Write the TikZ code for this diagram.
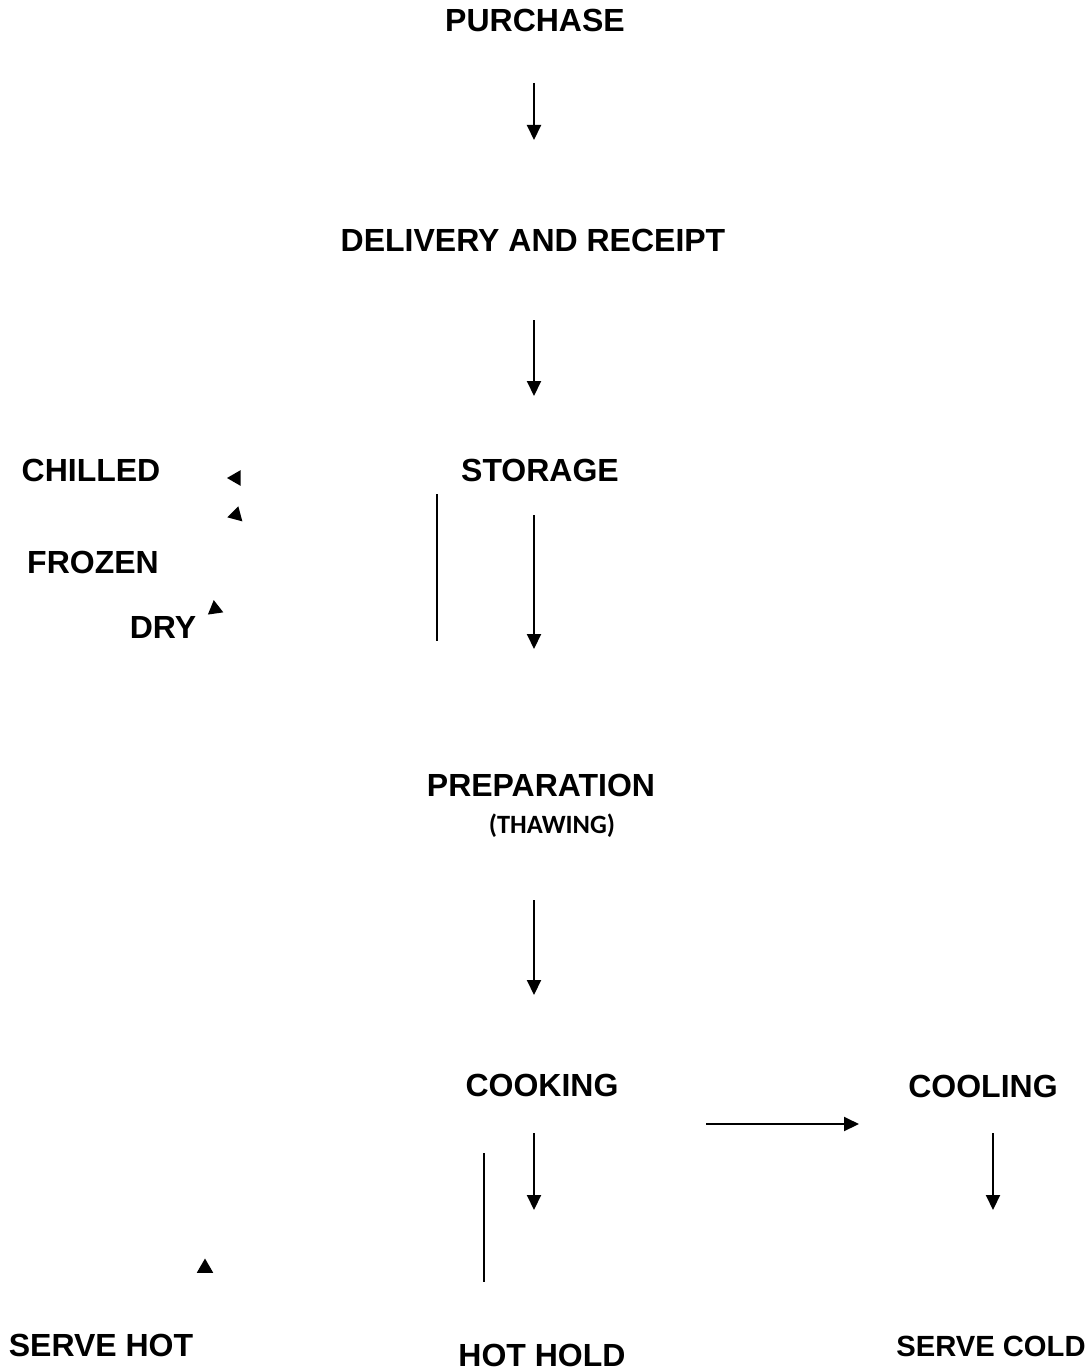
\documentclass[tikz,border=0pt]{standalone}
\usepackage{fontspec}
\setmainfont{Liberation Sans}
\newfontfamily\thawfont{Carlito}
\usepackage{tikz}
\usetikzlibrary{shapes.geometric}
\usetikzlibrary{arrows.meta}
\usetikzlibrary{positioning}

\begin{document}
\begin{tikzpicture}[x=0.5pt,y=-0.5pt,
	lbl/.style={font=\bfseries\fontsize{16}{19}\selectfont, inner sep=0, anchor=base},
	arr/.style={line width=1pt, -{Triangle[length=7.5pt,width=7pt]}},
	tri/.style={regular polygon, regular polygon sides=3, fill=black, inner sep=0, minimum size=9pt}]
\useasboundingbox (0,0) rectangle (1091,1370);
\node [lbl] (purchase) at (535,32) {PURCHASE};
\node [lbl] (delivery) at (533,251) {DELIVERY AND RECEIPT};
\node [lbl] (storage) at (540,481) {STORAGE};
\node [lbl] (chilled) at (91,481) {CHILLED};
\node [lbl] (frozen) at (93,573) {FROZEN};
\node [lbl] (dry) at (163,638) {DRY};
\node [lbl] (prep) at (541,796) {PREPARATION};
\node [lbl, font=\thawfont\bfseries\fontsize{13.2}{16}\selectfont] (thaw) at (552,833) {(THAWING)};
\node [lbl] (cooking) at (542,1096) {COOKING};
\node [lbl] (cooling) at (983,1097) {COOLING};
\node [lbl] (servehot) at (101,1356) {SERVE HOT};
\node [lbl] (hothold) at (542,1366) {HOT HOLD};
\node [lbl, font=\bfseries\fontsize{14.6}{17}\selectfont] (servecold) at (991,1356) {SERVE COLD};
\node [tri, rotate=90] (t1) at (236,478) {};
\node [tri, rotate=105] (t2) at (236,515) {};
\node [tri, rotate=8] (t3) at (215,609) {};
\node [tri, minimum size=9.5pt] (t4) at (205,1268) {};
\coordinate (p1) at (534,83);
\coordinate (p2) at (534,140);
\coordinate (d1) at (534,320);
\coordinate (d2) at (534,396);
\coordinate (s1) at (534,515);
\coordinate (s2) at (534,649);
\coordinate (l1) at (437,494);
\coordinate (l2) at (437,641);
\coordinate (r1) at (534,900);
\coordinate (r2) at (534,995);
\coordinate (c1) at (534,1133);
\coordinate (c2) at (534,1210);
\coordinate (h1) at (706,1124);
\coordinate (h2) at (859,1124);
\coordinate (o1) at (993,1133);
\coordinate (o2) at (993,1210);
\coordinate (k1) at (484,1153);
\coordinate (k2) at (484,1282);
\draw [arr] (p1) to (p2);
\draw [arr] (d1) to (d2);
\draw [arr] (s1) to (s2);
\draw [line width=1pt] (l1) to (l2);
\draw [arr] (r1) to (r2);
\draw [arr] (c1) to (c2);
\draw [arr] (h1) to (h2);
\draw [arr] (o1) to (o2);
\draw [line width=1pt] (k1) to (k2);
\end{tikzpicture}
\end{document}
